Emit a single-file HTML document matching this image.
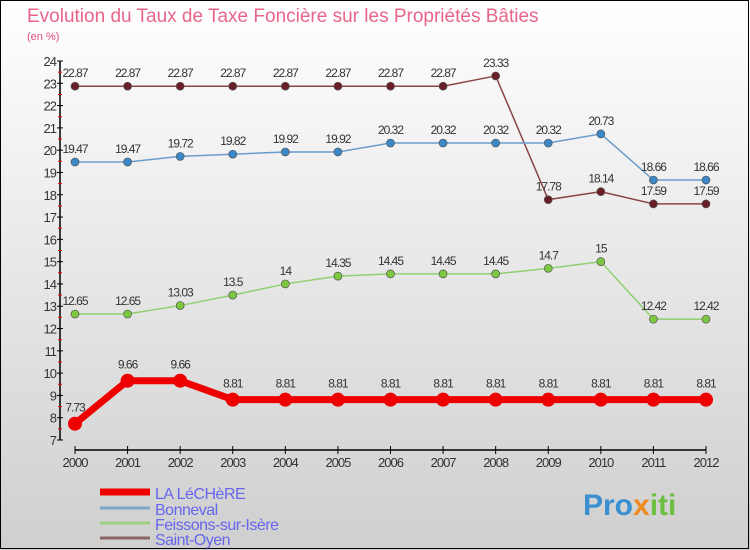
<!DOCTYPE html>
<html><head><meta charset="utf-8"><style>
body{margin:0}
#c{width:750px;height:550px;position:relative;overflow:hidden;background:linear-gradient(#ffffff,#cfcfcf);font-family:"Liberation Sans",sans-serif}
</style></head><body>
<div id="c">
<svg id="s" width="750" height="550" style="position:absolute;left:0;top:0">
<rect x="0.5" y="0.5" width="748" height="548" fill="none" stroke="#000" stroke-width="1"/>
<text x="27" y="22" font-size="19" fill="#e8658a">Evolution du Taux de Taxe Foncière sur les Propriétés Bâties</text>
<text x="27" y="40" font-size="11" fill="#e0507a">(en %)</text>
<g id="ax"></g><g id="series"></g>
<g>
<line x1="100" y1="492" x2="150" y2="492" stroke="#ee0000" stroke-width="7"/>
<text x="155" y="499" font-size="16" fill="#6666ee" letter-spacing="-0.5">LA LéCHèRE</text>
<line x1="100" y1="508" x2="150" y2="508" stroke="#7aa6c8" stroke-width="3"/>
<text x="155" y="515" font-size="16" fill="#6666ee" letter-spacing="-0.5">Bonneval</text>
<line x1="100" y1="523" x2="150" y2="523" stroke="#9ccf80" stroke-width="3"/>
<text x="155" y="530" font-size="16" fill="#6666ee" letter-spacing="-0.5">Feissons-sur-Isère</text>
<line x1="100" y1="538" x2="150" y2="538" stroke="#8a6565" stroke-width="3"/>
<text x="155" y="545" font-size="16" fill="#6666ee" letter-spacing="-0.5">Saint-Oyen</text>
</g>
<text x="583" y="515" font-size="30" font-weight="bold" fill="#3a8fd0">Pro<tspan fill="#f08a20">x</tspan><tspan fill="#6cbf40">iti</tspan></text>
</svg>
</div>
<script>
const years=[2000,2001,2002,2003,2004,2005,2006,2007,2008,2009,2010,2011,2012];
const laLechere=[7.73,9.66,9.66,8.81,8.81,8.81,8.81,8.81,8.81,8.81,8.81,8.81,8.81];
const bonneval=[19.47,19.47,19.72,19.82,19.92,19.92,20.32,20.32,20.32,20.32,20.73,18.66,18.66];
const feissons=[12.65,12.65,13.03,13.5,14,14.35,14.45,14.45,14.45,14.7,15,12.42,12.42];
const saintOyen=[22.87,22.87,22.87,22.87,22.87,22.87,22.87,22.87,23.33,17.78,18.14,17.59,17.59];
const yTicks=[7,8,9,10,11,12,13,14,15,16,17,18,19,20,21,22,23,24];
const NS="http://www.w3.org/2000/svg";
const xs=i=>75+i*(706-75)/(years.length-1);
const ys=v=>440-(v-7)*(379/17);
function mk(t,a,p){const e=document.createElementNS(NS,t);for(const k in a)e.setAttribute(k,a[k]);p.appendChild(e);return e;}
const ax=document.getElementById('ax');
let l=mk('line',{x1:60,y1:61,x2:60,y2:440,stroke:'#000','stroke-width':1.5},ax);


yTicks.forEach(v=>{
 let t=mk('line',{x1:57,x2:63,y1:ys(v),y2:ys(v),stroke:'#000'},ax);
 
 
 if(v<24){let m=mk('line',{x1:58,x2:62,y1:ys(v+0.5),y2:ys(v+0.5),stroke:'#e00'},ax);
 
 }
 let tx=mk('text',{x:56,y:ys(v)+5,'text-anchor':'end','font-size':13,fill:'#333','letter-spacing':'-1'},ax);
 tx.textContent=v;
 
 
});
l=mk('line',{x1:75,y1:450,x2:706,y2:450,stroke:'#000','stroke-width':1.5},ax);


years.forEach((y,i)=>{
 let t=mk('line',{x1:xs(i),x2:xs(i),y1:446,y2:454,stroke:'#000'},ax);
 
 
 let tx=mk('text',{x:xs(i),y:467,'text-anchor':'middle','font-size':13,fill:'#333','letter-spacing':'-1'},ax);
 tx.textContent=y;
 
 
});
const sg=document.getElementById('series');
function series(vals,name,color,lw,r,dot){
 const g=mk('g',{},sg);
 
 
 const p=mk('polyline',{points:vals.map((v,i)=>xs(i)+','+ys(v)).join(' '),fill:'none',stroke:color,'stroke-width':lw},g);
 
 
 vals.forEach((v,i)=>{
  const c=mk('circle',{cx:xs(i),cy:ys(v),r:r,fill:dot,stroke:'#555','stroke-width':r>5?0:0.7},g);
  
  
  const t=mk('text',{x:xs(i),y:ys(v)-9-(r>5?3:0),'text-anchor':'middle','font-size':12,fill:'#333','letter-spacing':'-1'},g);
  t.textContent=String(v);
  
  
 });
}
series(saintOyen,'saint-oyen','#8a4545',1.5,4,'#6a1f28');
series(bonneval,'bonneval','#6a9ccc',1.5,4,'#3a88c8');
series(feissons,'feissons','#8fd070',1.5,4,'#7cc840');
series(laLechere,'la-lechere','#ee0000',7,7,'#ee0000');
</script>
</body></html>
